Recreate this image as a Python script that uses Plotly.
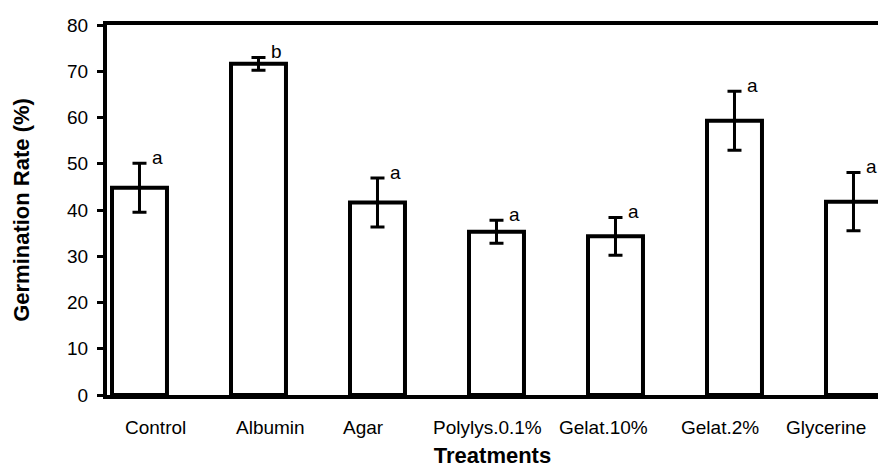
import plotly.graph_objects as go

treatments = ["Control", "Albumin", "Agar", "Polylys.0.1%", "Gelat.10%", "Gelat.2%", "Glycerine"]
germination_rate = [44.8, 71.6, 41.6, 35.3, 34.3, 59.3, 41.8]
error = [5.3, 1.4, 5.3, 2.5, 4.1, 6.4, 6.3]
letters = ["a", "b", "a", "a", "a", "a", "a"]

y_ticks = [0, 10, 20, 30, 40, 50, 60, 70, 80]

# style: horizontal nudges of the category labels as drawn in the original
label_nudge = [16, 12, -14, -9, -12, -14, -27]

FONT = "Liberation Sans, Arial, Helvetica, sans-serif"

fig = go.Figure()
fig.add_trace(go.Bar(
    x=treatments,
    y=germination_rate,
    width=0.462,
    marker=dict(color="white", line=dict(color="black", width=4)),
    error_y=dict(type="data", array=error, visible=True, color="black",
                 thickness=3, width=7),
    showlegend=False,
    hoverinfo="skip",
))

annotations = []
for cat, val, err, let in zip(treatments, germination_rate, error, letters):
    annotations.append(dict(
        x=cat, y=val + err, xref="x", yref="y", text=let, showarrow=False,
        xanchor="center", yanchor="middle", xshift=18, yshift=6,
        font=dict(family=FONT, size=19, color="black"),
    ))
for cat, nudge in zip(treatments, label_nudge):
    annotations.append(dict(
        x=cat, y=0, xref="x", yref="paper", text=cat, showarrow=False,
        xanchor="center", yanchor="middle", xshift=nudge, yshift=-32,
        font=dict(family=FONT, size=19, color="black"),
    ))

fig.update_layout(
    width=878, height=471,
    margin=dict(l=107, r=0, t=25, b=76),
    plot_bgcolor="white", paper_bgcolor="white",
    annotations=annotations,
    xaxis=dict(
        type="category",
        range=[-0.273, 6.206],
        showline=True, linecolor="black", linewidth=4, mirror=True,
        showgrid=False, zeroline=False, ticks="", showticklabels=False,
        title=dict(text="<b>Treatments</b>", standoff=51,
                   font=dict(family=FONT, size=22, color="black")),
    ),
    yaxis=dict(
        range=[0, 80], tickvals=y_ticks,
        showline=True, linecolor="black", linewidth=4, mirror=False,
        showgrid=False, zeroline=False,
        ticks="outside", ticklen=6, tickwidth=3, tickcolor="black",
        ticklabelstandoff=5,
        tickfont=dict(family=FONT, size=19, color="black"),
        title=dict(text="<b>Germination Rate (%)</b>", standoff=32,
                   font=dict(family=FONT, size=22, color="black")),
    ),
)

fig.write_html(
    "out.html",
    config={"displayModeBar": False},
    post_script="document.body.style.margin='0';document.body.style.overflow='hidden';",
)
